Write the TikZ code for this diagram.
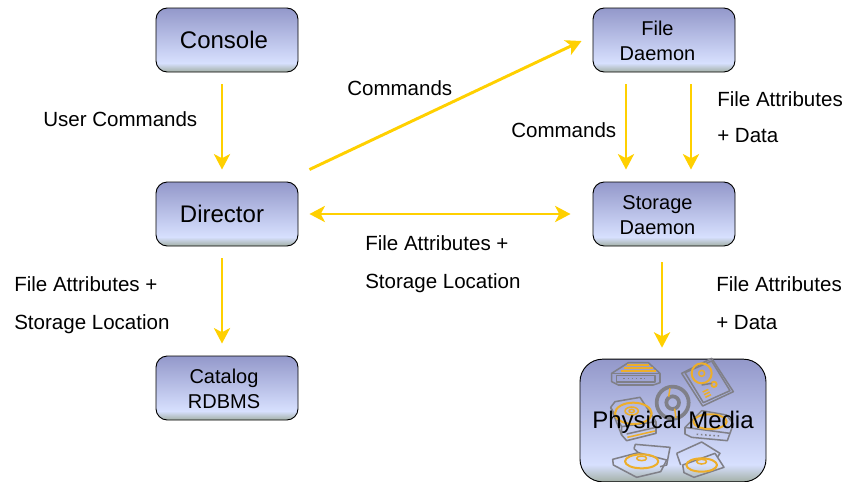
\documentclass[tikz,border=0pt]{standalone}
\usepackage{fontspec}
\setmainfont{Liberation Sans}
\usetikzlibrary{arrows.meta,calc}
\definecolor{flow}{HTML}{FFD000}
\definecolor{icongrey}{HTML}{808088}
\definecolor{iconorange}{HTML}{EDAE2A}
\definecolor{shbot}{HTML}{A3B0A6}
\definecolor{shlight}{HTML}{D7E0FE}
\definecolor{shtop}{HTML}{9398CA}
\pgfdeclareverticalshading{boxshade}{100bp}{
 color(0bp)=(shbot);
 color(25bp)=(shbot);
 color(32bp)=(shlight);
 color(75bp)=(shtop);
 color(100bp)=(shtop)}
\newcommand{\firstline}{\rule{0pt}{12.4pt}}
\tikzset{
 x=0.75pt,y=-0.75pt,
 boxbase/.style={draw=black,line width=0.7pt,rounded corners=8.5pt,shading=boxshade,text=black,align=center,inner sep=0pt,
   minimum width=106.5pt,minimum height=48pt,text width=104pt},
 bigbox/.style={boxbase,font=\fontsize{18}{20}\selectfont},
 smallbox/.style={boxbase,font=\fontsize{15}{18.7}\selectfont},
 flowline/.style={draw=flow,line width=2.2pt,-{Stealth[length=11.5pt,width=12pt,inset=3pt]}},
 flowboth/.style={draw=flow,line width=2.2pt,{Stealth[length=11.5pt,width=12pt,inset=3pt]}-{Stealth[length=11.5pt,width=12pt,inset=3pt]}},
 lab/.style={font=\fontsize{15.4}{28.75}\selectfont,align=left,anchor=north west,inner sep=0pt,text=black},
 ig/.style={draw=icongrey,line width=1.15pt,line join=round},
 io/.style={draw=iconorange,line width=1.15pt,line join=round},
}
\begin{document}
\begin{tikzpicture}
\useasboundingbox (0,0) rectangle (847,482);
\node[bigbox] (console) at (227,40) {\hspace*{-4.5pt}\raisebox{0.75pt}{Console}};
\node[bigbox] (director) at (227,214) {\hspace*{-7.5pt}\raisebox{0.75pt}{Director}};
\node[smallbox] (catalog) at (227,388) {\hspace*{-4.5pt}\firstline Catalog\\\hspace*{-4.5pt}RDBMS};
\node[smallbox] (file) at (664,40) {\hspace*{-9.75pt}\firstline File\\\hspace*{-9.75pt}Daemon};
\node[smallbox] (storage) at (664,214) {\hspace*{-9.75pt}\firstline Storage\\\hspace*{-9.75pt}Daemon};
\node[boxbase,minimum width=139.5pt,minimum height=92pt,text width=138pt,rounded corners=17pt] (media) at (673,420.5) {};
\begin{scope}[shift={(570,350)},x=0.25pt,y=-0.25pt]
 % top-left drive
 \draw[ig] (125,70) -- (175,38) -- (235,38) -- (270,70) -- (270,98) -- (250,105) -- (145,105) -- (125,95) -- cycle;
 \draw[ig] (125,70) -- (270,70);
 \draw[ig] (140,76) rectangle (255,96);
 \draw[io,line width=1.4pt] (172,46)--(238,46) (162,54)--(248,54) (152,62)--(258,62);
 \draw[ig,dotted] (160,85)--(225,85);
 % top-right disk
 \draw[ig] (335,70) -- (425,25) -- (490,125) -- (398,168) -- cycle;
 \draw[ig] (345,68) -- (425,33) -- (480,122) -- (400,158) -- cycle;
 \draw[io,line width=1.5pt] (395,70) circle[radius=30];
 \draw[io] (395,70) circle[radius=9];
 \draw[io,line width=1.4pt] (432,103) circle[radius=8];
 \draw[ig] (395,105) -- (425,100);
 \draw[io] (398,126)--(415,118) (402,134)--(419,126) (406,142)--(423,134);
 % CD
 \draw[icongrey,line width=2.8pt] (308,158) circle[radius=48];
 \draw[icongrey,line width=2.8pt] (308,158) circle[radius=19];
 \draw[iconorange,line width=1.1pt] (300,115)--(296,140) (314,176)--(318,204);
 % left drive
 \draw[ig] (122,172) -- (135,155) -- (210,142) -- (258,215) -- (258,250) -- (170,272) -- (155,255) -- cycle;
 \draw[ig] (122,172) -- (155,230) -- (258,215);
 \draw[ig] (155,230) -- (155,255) (170,252) -- (258,232);
 \draw[io,line width=1.5pt] (190,190) ellipse[x radius=55,y radius=32];
 \draw[io] (185,183) ellipse[x radius=20,y radius=12];
 \draw[io] (185,183) ellipse[x radius=8,y radius=5];
 \draw[io] (172,262)--(255,243);
 % right drive
 \draw[ig] (345,232) -- (395,182) -- (470,195) -- (490,222) -- (472,272) -- (365,262) -- (345,252) -- cycle;
 \draw[ig] (345,232) -- (480,250);
 \draw[io,line width=1.5pt] (420,215) ellipse[x radius=50,y radius=22];
 \draw[ig,dotted] (380,253)--(450,258);
 % bottom-left tray
 \draw[ig] (192,296) -- (196,283) -- (300,292) -- (290,345) -- (270,350);
 \draw[ig] (128,328) -- (205,308) -- (290,330) -- (272,365) -- (200,382) -- (130,345) -- cycle;
 \draw[ig] (192,296) -- (205,308);
 \draw[io,line width=1.5pt] (215,334) ellipse[x radius=50,y radius=21];
 \draw[io] (215,325) ellipse[x radius=15,y radius=7];
 % bottom-right tray
 \draw[ig] (320,310) -- (395,276) -- (450,310) -- (442,322);
 \draw[ig] (320,310) -- (332,345);
 \draw[ig] (338,345) -- (435,310) -- (462,352) -- (372,382) -- (342,368) -- cycle;
 \draw[io,line width=1.5pt] (395,345) ellipse[x radius=46,y radius=20];
 \draw[io] (395,335) ellipse[x radius=15,y radius=7];
\end{scope}
\node[font=\fontsize{18}{20}\selectfont,inner sep=0pt,yshift=-1.5pt] at (media.center) {Physical Media};
\draw[flowline] ($(console.south)+(-5,12)$) -- ($(director.north)+(-5,-12)$);
\draw[flowline] ($(director.south)+(-5,12)$) -- ($(catalog.north)+(-5,-12)$);
\draw[flowline] ($(director.north east)+(11,-12)$) -- ($(file.west)+(-11,1)$);
\draw[flowboth] ($(director.east)+(11,0)$) -- ($(storage.west)+(-22,0)$);
\draw[flowline] ($(file.south)+(-38,12)$) -- ($(storage.north)+(-38,-12)$);
\draw[flowline] ($(file.south)+(27,12)$) -- ($(storage.north)+(27,-12)$);
\draw[flowline] ($(storage.south)+(-2,16)$) -- ($(media.north)+(-11,-11)$);
\node[lab] (l1) at (43,111.5) {User Commands};
\node[lab] (l2) at (347,80) {Commands};
\node[lab] (l3) at (511,122.5) {Commands};
\node[lab] (l4) at (717,91) {File Attributes\\[-1.5pt]+ Data};
\node[lab] (l5) at (14,276) {File Attributes +\\Storage Location};
\node[lab] (l6) at (365,235) {File Attributes +\\Storage Location};
\node[lab] (l7) at (716,276) {File Attributes\\+ Data};
\end{tikzpicture}
\end{document}
